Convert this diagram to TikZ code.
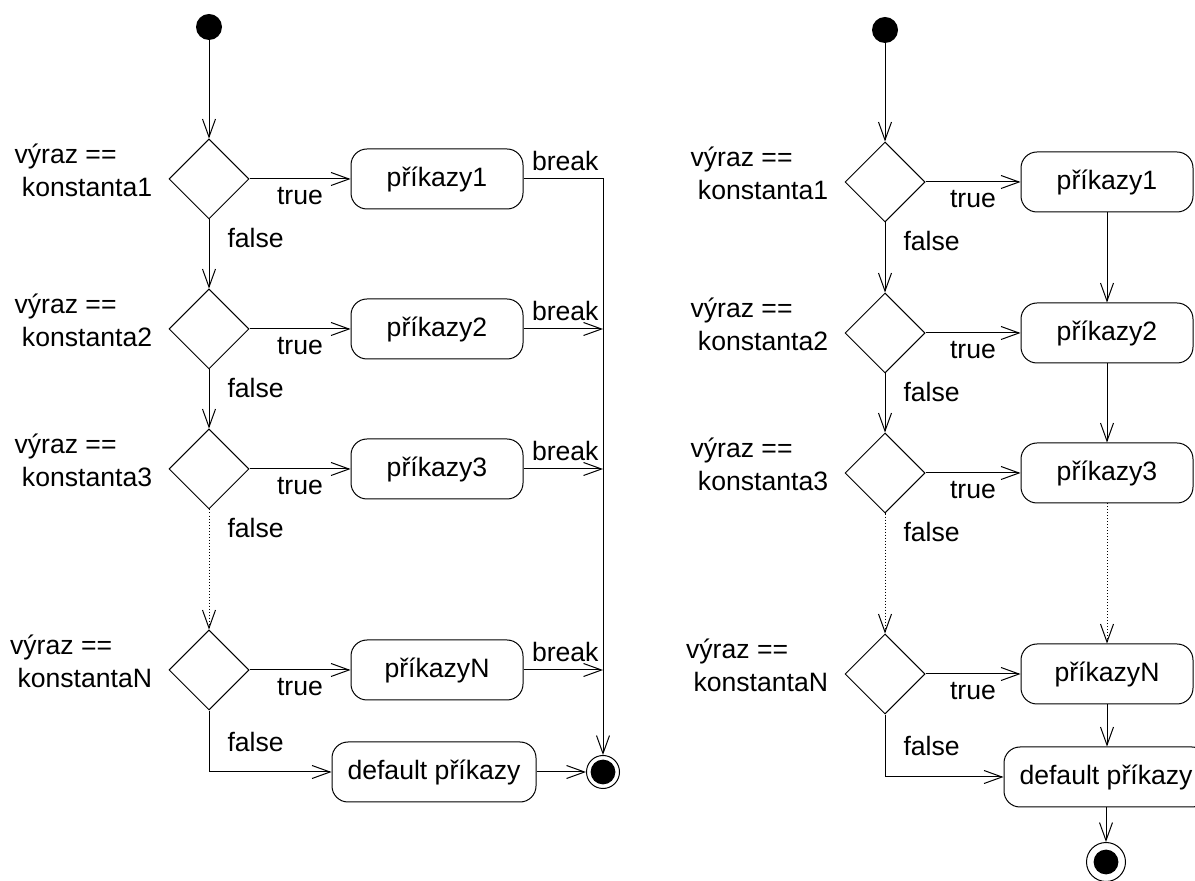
\documentclass[tikz,border=0pt]{standalone}
\usepackage{fontspec}
\setmainfont{Liberation Sans}
\usepackage{tikz}
\usetikzlibrary{arrows.meta, positioning, shapes.geometric}

\tikzset{
  flow/.style={-{Straight Barb[length=9pt,width=6.5pt]}, line width=0.5pt},
  decision/.style={diamond, draw, line width=0.5pt, inner sep=0pt,
    minimum width=40pt, minimum height=40pt},
  action/.style={rectangle, draw, line width=0.5pt, rounded corners=8pt,
    minimum width=86pt, minimum height=30pt},
  initial/.style={circle, fill, inner sep=0pt, minimum size=13pt},
  final/.style={circle, draw, line width=0.5pt, inner sep=0pt, minimum size=16.5pt,
    path picture={\fill (path picture bounding box.center) circle (6.2pt);}},
  lbl/.style={inner sep=4pt},
  cond/.style={align=left, inner sep=4pt},
}

\begin{document}
\begin{tikzpicture}[x=0.5pt, y=-0.5pt, font=\fontsize{13.3}{16.5}\selectfont]
        \useasboundingbox (0,0) rectangle (1195,881);

        % ---- switch with break ----
        \node[initial] (initL) at (209,27) {};
        \node[decision] (dL1) at (209,179) {};
        \node[decision] (dL2) at (209,329) {};
        \node[decision] (dL3) at (209,469) {};
        \node[decision] (dL4) at (209,670) {};
        \node[cond, left=4pt of dL1, yshift=4.5pt] (cL1) {výraz ==\\\hspace{3.7pt}konstanta1};
        \node[cond, left=4pt of dL2, yshift=4.5pt] (cL2) {výraz ==\\\hspace{3.7pt}konstanta2};
        \node[cond, left=4pt of dL3, yshift=4.5pt] (cL3) {výraz ==\\\hspace{3.7pt}konstanta3};
        \node[cond, left=4pt of dL4, yshift=4.5pt] (cL4) {výraz ==\\\hspace{3.7pt}konstantaN};
        \node[action] (aL1) at (437,179) {příkazy1};
        \node[action] (aL2) at (437,329) {příkazy2};
        \node[action] (aL3) at (437,469) {příkazy3};
        \node[action] (aL4) at (437,670) {příkazyN};
        \node[action, minimum width=102pt] (defL) at (434,772) {default příkazy};
        \node[final] (finL) at (603,772) {};

        % conditions, false branch going down
        \draw[flow] (initL) -- (dL1);
        \draw[flow] (dL1) -- node[lbl, pos=0, anchor=north west, xshift=5pt] {false} (dL2);
        \draw[flow] (dL2) -- node[lbl, pos=0, anchor=north west, xshift=5pt] {false} (dL3);
        \draw[flow, densely dotted] (dL3) -- node[lbl, pos=0, anchor=north west, xshift=5pt] {false} (dL4);
        \draw[flow] (dL4) |- node[lbl, pos=0, anchor=north west, xshift=5pt, yshift=-6.5pt] {false} (defL);
        % true branches
        \draw[flow] (dL1) -- node[lbl, below] {true} (aL1);
        \draw[flow] (dL2) -- node[lbl, below] {true} (aL2);
        \draw[flow] (dL3) -- node[lbl, below] {true} (aL3);
        \draw[flow] (dL4) -- node[lbl, below] {true} (aL4);
        % break into the end node
        \draw[flow] (aL1.east) -- node[lbl, pos=0, anchor=south west] {break} (aL1.east -| finL) -- (finL);
        \draw[flow] (aL2.east) -- node[lbl, pos=0, anchor=south west] {break} (aL2.east -| finL);
        \draw[flow] (aL3.east) -- node[lbl, pos=0, anchor=south west] {break} (aL3.east -| finL);
        \draw[flow] (aL4.east) -- node[lbl, pos=0, anchor=south west] {break} (aL4.east -| finL);
        \draw[flow] (defL) -- (finL);

        % ---- switch without break ----
        \node[initial] (initR) at (885,30) {};
        \node[decision] (dR1) at (885,182) {};
        \node[decision] (dR2) at (885,333) {};
        \node[decision] (dR3) at (885,473) {};
        \node[decision] (dR4) at (885,674) {};
        \node[cond, left=4pt of dR1, yshift=4.5pt] (cR1) {výraz ==\\\hspace{3.7pt}konstanta1};
        \node[cond, left=4pt of dR2, yshift=4.5pt] (cR2) {výraz ==\\\hspace{3.7pt}konstanta2};
        \node[cond, left=4pt of dR3, yshift=4.5pt] (cR3) {výraz ==\\\hspace{3.7pt}konstanta3};
        \node[cond, left=4pt of dR4, yshift=4.5pt] (cR4) {výraz ==\\\hspace{3.7pt}konstantaN};
        \node[action] (aR1) at (1107,182) {příkazy1};
        \node[action] (aR2) at (1107,333) {příkazy2};
        \node[action] (aR3) at (1107,473) {příkazy3};
        \node[action] (aR4) at (1107,674) {příkazyN};
        \node[action, minimum width=102pt] (defR) at (1106,777) {default příkazy};
        \node[final, minimum size=19.5pt] (finR) at (1106,862) {};

        % conditions, false branch going down
        \draw[flow] (initR) -- (dR1);
        \draw[flow] (dR1) -- node[lbl, pos=0, anchor=north west, xshift=5pt] {false} (dR2);
        \draw[flow] (dR2) -- node[lbl, pos=0, anchor=north west, xshift=5pt] {false} (dR3);
        \draw[flow, densely dotted] (dR3) -- node[lbl, pos=0, anchor=north west, xshift=5pt] {false} (dR4);
        \draw[flow] (dR4) |- node[lbl, pos=0, anchor=north west, xshift=5pt, yshift=-6.5pt] {false} (defR);
        % true branches
        \draw[flow] (dR1) -- node[lbl, below] {true} (aR1);
        \draw[flow] (dR2) -- node[lbl, below] {true} (aR2);
        \draw[flow] (dR3) -- node[lbl, below] {true} (aR3);
        \draw[flow] (dR4) -- node[lbl, below] {true} (aR4);
        % fall through from one case to the next
        \draw[flow] (aR1) -- (aR2);
        \draw[flow] (aR2) -- (aR3);
        \draw[flow, densely dotted] (aR3) -- (aR4);
        \draw[flow] (aR4) -- (aR4 |- defR.north);
        \draw[flow] (defR.south -| finR) -- (finR);
\end{tikzpicture}
\end{document}
